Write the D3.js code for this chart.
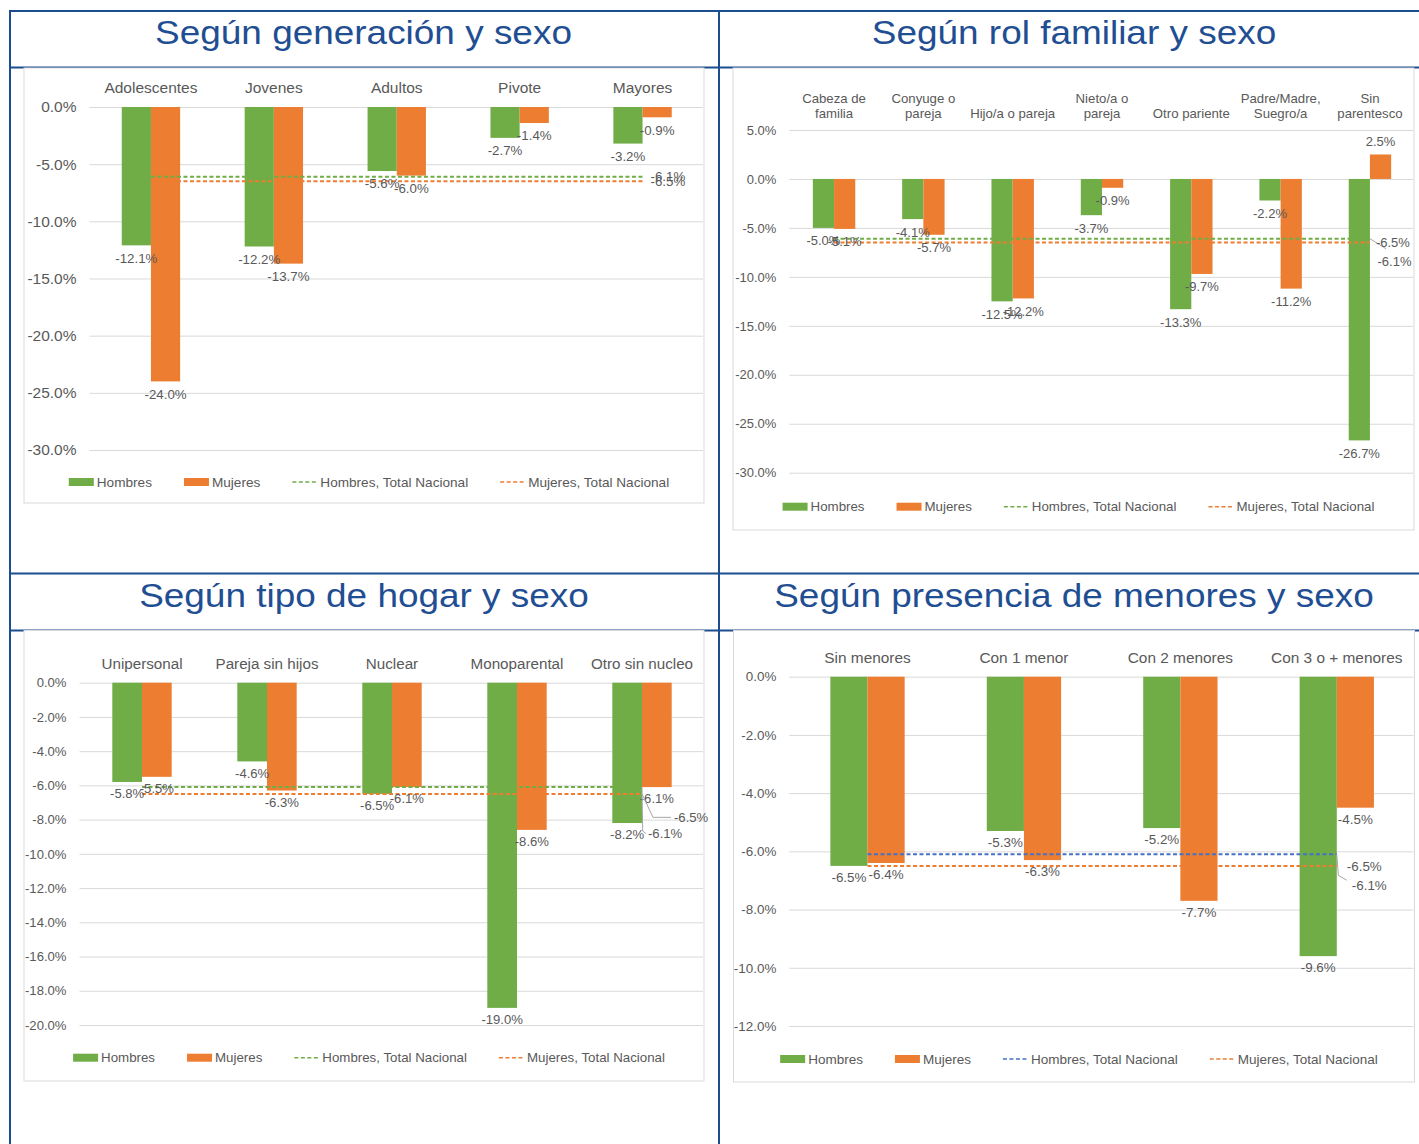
<!DOCTYPE html>
<html>
<head>
<meta charset="utf-8">
<script src="https://cdn.jsdelivr.net/npm/d3@7"></script>
<style>
  body { margin: 0; background: #fff; }
  svg text { font-family: "Liberation Sans", Arial, Helvetica, sans-serif; }
</style>
</head>
<body>
<svg id="chart" width="1419" height="1144"></svg>
<script>
// ---------- data ----------
const seriesNames = ["Hombres", "Mujeres"];
const lineNames = ["Hombres, Total Nacional", "Mujeres, Total Nacional"];
const totalNacional = [-6.1, -6.5]; // Hombres, Mujeres

const genTitle = "Según generación y sexo";
const genCategories = [["Adolescentes"], ["Jovenes"], ["Adultos"], ["Pivote"], ["Mayores"]];
const genHombres = [-12.1, -12.2, -5.6, -2.7, -3.2];
const genMujeres = [-24.0, -13.7, -6.0, -1.4, -0.9];
const genTicks = [0, -5, -10, -15, -20, -25, -30];

const rolTitle = "Según rol familiar y sexo";
const rolCategories = [["Cabeza de", "familia"], ["Conyuge o", "pareja"], ["Hijo/a o pareja"],
  ["Nieto/a o", "pareja"], ["Otro pariente"], ["Padre/Madre,", "Suegro/a"], ["Sin", "parentesco"]];
const rolHombres = [-5.0, -4.1, -12.5, -3.7, -13.3, -2.2, -26.7];
const rolMujeres = [-5.1, -5.7, -12.2, -0.9, -9.7, -11.2, 2.5];
const rolTicks = [5, 0, -5, -10, -15, -20, -25, -30];

const hogarTitle = "Según tipo de hogar y sexo";
const hogarCategories = [["Unipersonal"], ["Pareja sin hijos"], ["Nuclear"], ["Monoparental"], ["Otro sin nucleo"]];
const hogarHombres = [-5.8, -4.6, -6.5, -19.0, -8.2];
const hogarMujeres = [-5.5, -6.3, -6.1, -8.6, -6.1];
const hogarTicks = [0, -2, -4, -6, -8, -10, -12, -14, -16, -18, -20];

const menTitle = "Según presencia de menores y sexo";
const menCategories = [["Sin menores"], ["Con 1 menor"], ["Con 2 menores"], ["Con 3 o + menores"]];
const menHombres = [-6.5, -5.3, -5.2, -9.6];
const menMujeres = [-6.4, -6.3, -7.7, -4.5];
const menTicks = [0, -2, -4, -6, -8, -10, -12];

// ---------- styles ----------
const FONT = '"Liberation Sans", Arial, Helvetica, sans-serif';
const GREEN = "#70AD47", ORANGE = "#ED7D31", BLUE = "#4472C4";
const TEXT = "#595959", GRID = "#D9D9D9", FRAME = "#1B4D8F", TITLE = "#1F4E93";
const pct = v => v.toFixed(1) + "%";

const svg = d3.select("#chart");

// ---------- table frame ----------
const frame = svg.append("g").attr("stroke", FRAME).attr("stroke-width", 2).attr("fill", "none");
[[10, 11, 1419, 11], [10, 67.5, 1419, 67.5], [10, 573.5, 1419, 573.5], [10, 630.5, 1419, 630.5],
 [10, 10, 10, 1144], [719, 10, 719, 1144]].forEach(l =>
  frame.append("line").attr("x1", l[0]).attr("y1", l[1]).attr("x2", l[2]).attr("y2", l[3]));

// ---------- titles ----------
function title(text, cx, baseline) {
  svg.append("text")
    .attr("transform", `translate(${cx},${baseline}) scale(1.12,1)`)
    .attr("text-anchor", "middle")
    .attr("font-size", 33)
    .attr("fill", TITLE)
    .text(text);
}
title(genTitle, 363.5, 44);
title(rolTitle, 1074, 44);
title(hogarTitle, 364, 606.5);
title(menTitle, 1074, 606.5);

// ---------- one clustered-bar panel ----------
function drawPanel(cfg) {
  const g = svg.append("g");
  const [bx0, by0, bx1, by1] = cfg.box;
  g.append("rect").attr("x", bx0).attr("y", by0).attr("width", bx1 - bx0).attr("height", by1 - by0)
    .attr("fill", "#fff").attr("stroke", GRID).attr("stroke-width", 1);

  const idx = d3.range(cfg.categories.length);
  const x = d3.scaleBand().domain(idx).range(cfg.xRange).paddingInner(0.525).paddingOuter(0.2625);
  const xs = d3.scaleBand().domain(seriesNames).range([0, x.bandwidth()]);
  const y = d3.scaleLinear().domain(cfg.yDomain).range(cfg.yRange);
  const cx = i => x(i) + x.bandwidth() / 2;

  // gridlines and value axis labels
  const gridW = Math.min(cfg.xRange[1], bx1 - 1) - cfg.xRange[0];
  const axis = d3.axisLeft(y).tickValues(cfg.ticks).tickFormat(pct).tickSize(-gridW).tickPadding(13);
  const ag = g.append("g").attr("transform", `translate(${cfg.xRange[0]},0)`).call(axis);
  ag.select(".domain").remove();
  ag.selectAll(".tick line").attr("stroke", GRID).attr("stroke-width", 1);
  ag.selectAll(".tick text").attr("fill", TEXT).attr("font-size", cfg.fs.tick).attr("font-family", FONT);

  // category labels (top)
  const cat = g.append("g").attr("fill", TEXT).attr("font-size", cfg.fs.cat).attr("text-anchor", "middle");
  cfg.categories.forEach((lines, i) => {
    lines.forEach((ln, k) => {
      cat.append("text").attr("x", cx(i))
        .attr("y", cfg.catY - (lines.length - 1 - k) * cfg.catLine)
        .attr("dy", "0.35em").text(ln);
    });
  });

  // bars
  const bars = [];
  idx.forEach(i => {
    bars.push({ i, s: "Hombres", v: cfg.hombres[i] });
    bars.push({ i, s: "Mujeres", v: cfg.mujeres[i] });
  });
  g.append("g").selectAll("rect").data(bars).join("rect")
    .attr("x", d => x(d.i) + xs(d.s))
    .attr("width", xs.bandwidth())
    .attr("y", d => y(Math.max(0, d.v)))
    .attr("height", d => Math.abs(y(d.v) - y(0)))
    .attr("fill", d => d.s === "Hombres" ? GREEN : ORANGE);

  // national total reference lines
  const lineColors = [cfg.lineColorH, ORANGE];
  const line = d3.line().x(d => cx(d.i)).y(d => y(d.v));
  totalNacional.forEach((t, k) => {
    g.append("path")
      .datum(idx.map(i => ({ i, v: t })))
      .attr("d", line)
      .attr("fill", "none")
      .attr("stroke", lineColors[k])
      .attr("stroke-width", 2)
      .attr("stroke-dasharray", "4,2.5");
  });

  // bar value labels
  g.append("g").selectAll("text").data(bars).join("text")
    .attr("x", d => x(d.i) + xs(d.s) + xs.bandwidth() / 2)
    .attr("y", d => d.v < 0 ? y(d.v) + cfg.labelGap : y(d.v) - cfg.labelGap)
    .attr("dy", "0.35em")
    .attr("text-anchor", "middle")
    .attr("fill", TEXT)
    .attr("font-size", cfg.fs.data)
    .text(d => pct(d.v));

  // total line value labels (at the last category)
  const last = idx[idx.length - 1];
  totalNacional.forEach((t, k) => {
    const px = cx(last), py = y(t);
    const place = cfg.lineLabels[k];
    const lx = px + place.dx, ly = py + place.dy;
    if (place.leader) {
      const pts = [[px, py]].concat(place.leader.map(p => [px + p[0], py + p[1]]));
      g.append("path").attr("d", d3.line()(pts))
        .attr("fill", "none").attr("stroke", "#A6A6A6").attr("stroke-width", 1);
    }
    g.append("text").attr("x", lx).attr("y", ly).attr("dy", "0.35em")
      .attr("fill", TEXT).attr("font-size", cfg.fs.data).text(pct(t));
  });

  // legend
  const items = [
    { name: seriesNames[0], type: "bar", color: GREEN },
    { name: seriesNames[1], type: "bar", color: ORANGE },
    { name: lineNames[0], type: "line", color: cfg.lineColorH },
    { name: lineNames[1], type: "line", color: ORANGE }
  ];
  const lg = g.append("g").attr("font-size", cfg.fs.legend).attr("fill", TEXT);
  const sw = 25, gapIn = 3, gapOut = 32;
  const texts = items.map(it => lg.append("text").attr("y", cfg.legendY).attr("dy", "0.35em").text(it.name));
  const widths = texts.map(t => t.node().getComputedTextLength());
  const total = d3.sum(widths) + items.length * (sw + gapIn) + (items.length - 1) * gapOut;
  let cur = (bx0 + bx1) / 2 + 5 - total / 2;
  items.forEach((it, k) => {
    if (it.type === "bar") {
      lg.append("rect").attr("x", cur).attr("y", cfg.legendY - 4).attr("width", sw).attr("height", 8)
        .attr("fill", it.color);
    } else {
      lg.append("line").attr("x1", cur).attr("x2", cur + sw).attr("y1", cfg.legendY).attr("y2", cfg.legendY)
        .attr("stroke", it.color).attr("stroke-width", 1.6).attr("stroke-dasharray", "4,2.5");
    }
    texts[k].attr("x", cur + sw + gapIn);
    cur += sw + gapIn + widths[k] + gapOut;
  });
}

drawPanel({
  categories: genCategories, hombres: genHombres, mujeres: genMujeres, ticks: genTicks,
  box: [24, 68, 704, 503], xRange: [89.5, 704], yDomain: [-30, 0], yRange: [450, 107],
  fs: { tick: 15.5, cat: 15.5, data: 13.3, legend: 13.6 },
  catY: 88, catLine: 15, legendY: 482, labelGap: 12.7, lineColorH: GREEN,
  lineLabels: [{ dx: 8, dy: 0 }, { dx: 8, dy: 0 }]
});

drawPanel({
  categories: rolCategories, hombres: rolHombres, mujeres: rolMujeres, ticks: rolTicks,
  box: [733, 68, 1414, 530], xRange: [789.4, 1414.6], yDomain: [-30, 5], yRange: [472.7, 130],
  fs: { tick: 13, cat: 13.2, data: 13, legend: 13.3 },
  catY: 113, catLine: 15, legendY: 506.7, labelGap: 13, lineColorH: GREEN,
  lineLabels: [{ dx: 7.6, dy: 23, leader: [[16, 10]] }, { dx: 6, dy: 0 }]
});

drawPanel({
  categories: hogarCategories, hombres: hogarHombres, mujeres: hogarMujeres, ticks: hogarTicks,
  box: [24, 630.5, 704, 1081], xRange: [79.5, 704.5], yDomain: [-20, 0], yRange: [1025, 682.7],
  fs: { tick: 13.1, cat: 15.2, data: 13.1, legend: 13.3 },
  catY: 664, catLine: 15, legendY: 1057.7, labelGap: 11.8, lineColorH: GREEN,
  lineLabels: [{ dx: 6, dy: 46.5, leader: [[0.7, 44], [4, 46.5]] },
               { dx: 32, dy: 23.4, leader: [[11, 23.4], [29, 23.4]] }]
});

drawPanel({
  categories: menCategories, hombres: menHombres, mujeres: menMujeres, ticks: menTicks,
  box: [733.5, 630.5, 1414.5, 1082], xRange: [789.3, 1415], yDomain: [-12, 0], yRange: [1026, 676.7],
  fs: { tick: 13.4, cat: 15.4, data: 13.4, legend: 13.5 },
  catY: 658, catLine: 15, legendY: 1059, labelGap: 11.5, lineColorH: BLUE,
  lineLabels: [{ dx: 15, dy: 31, leader: [[1.6, 21], [10, 26]] }, { dx: 10, dy: 0 }]
});
</script>
</body>
</html>
